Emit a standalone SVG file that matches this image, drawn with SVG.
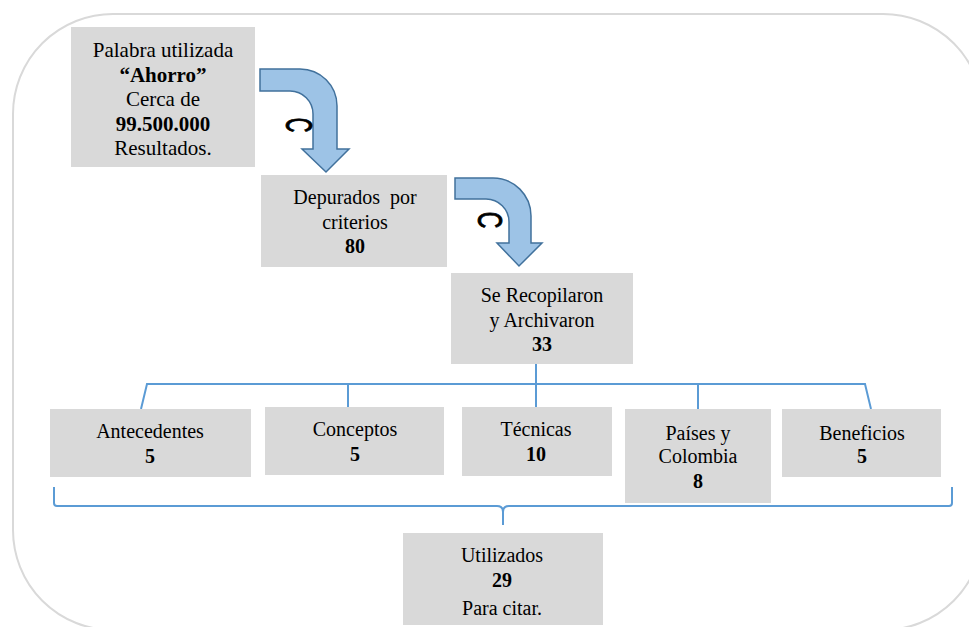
<svg xmlns="http://www.w3.org/2000/svg" width="969" height="627" viewBox="0 0 969 627">
<style>
.frame{fill:#ffffff;stroke:#d9d9d9;stroke-width:2}
.box{fill:#d9d9d9;stroke:none}
.arrow{fill:#9dc3e6;stroke:#41719c;stroke-width:1.5}
.conn{fill:none;stroke:#5b9bd5;stroke-width:2}
.t{font-family:'Liberation Serif','Tinos','Noto Serif','DejaVu Serif','Times New Roman',Times,serif;font-size:20px;fill:#000;text-anchor:middle}
.t1{font-size:21px}
.b{font-weight:bold}
.c{font-family:'Liberation Sans','DejaVu Sans',Arial,sans-serif;font-size:46px;fill:#000;stroke:#000;stroke-width:1.2;text-anchor:middle}
</style>
<rect class="frame" x="13" y="14" width="970" height="616" rx="100" ry="100"/>

<g id="connectors">
<path class="arrow" d="M260,69 H300 A37,37 0 0 1 337,106 V149 H349 L326,172 L302,149 H313 V114 A23,23 0 0 0 290,91 H260 Z"/>
<text class="c" transform="translate(286,125) rotate(90) scale(0.44,0.8)">C</text>
<path class="arrow" d="M455,178 H493 A38,38 0 0 1 531,216 V243 H542 L519,266 L497,243 H509 V222 A23,23 0 0 0 486,199 H455 Z"/>
<text class="c" transform="translate(478,220) rotate(90) scale(0.5,0.75)">C</text>
<path class="conn" d="M536,364 V407"/>
<path class="conn" d="M141,409 L147,384 H865 L871,409"/>
<path class="conn" d="M348,384 V407"/>
<path class="conn" d="M698,384 V409"/>
<path class="conn" d="M54,487 V503 Q54,506 57,506 H497 Q503,506 503,512 V525 M503,512 Q503,506 509,506 H949 Q952,506 952,503 V487"/>
</g>

<g id="n-palabra">
<rect class="box" x="71" y="27" width="184" height="140"/>
<text class="t t1" x="163" y="57">Palabra utilizada</text>
<text class="t t1 b" x="163" y="82">“Ahorro”</text>
<text class="t t1" x="163" y="106">Cerca de</text>
<text class="t t1 b" x="163" y="131">99.500.000</text>
<text class="t t1" x="163" y="155">Resultados.</text>
</g>

<g id="n-depurados">
<rect class="box" x="261" y="175" width="186" height="92"/>
<text class="t" x="355" y="204" xml:space="preserve">Depurados  por</text>
<text class="t" x="355" y="229">criterios</text>
<text class="t b" x="355" y="253">80</text>
</g>

<g id="n-recopilaron">
<rect class="box" x="451" y="273" width="182" height="91"/>
<text class="t" x="542" y="302">Se Recopilaron</text>
<text class="t" x="542" y="327">y Archivaron</text>
<text class="t b" x="542" y="351">33</text>
</g>

<g id="n-antecedentes">
<rect class="box" x="50" y="409" width="201" height="68"/>
<text class="t" x="150" y="438">Antecedentes</text>
<text class="t b" x="150" y="463">5</text>
</g>

<g id="n-conceptos">
<rect class="box" x="265" y="407" width="179" height="68"/>
<text class="t" x="355" y="436">Conceptos</text>
<text class="t b" x="355" y="461">5</text>
</g>

<g id="n-tecnicas">
<rect class="box" x="462" y="407" width="150" height="69"/>
<text class="t" x="536" y="436">Técnicas</text>
<text class="t b" x="536" y="461">10</text>
</g>

<g id="n-paises">
<rect class="box" x="625" y="409" width="146" height="94"/>
<text class="t" x="698" y="440">Países y</text>
<text class="t" x="698" y="463">Colombia</text>
<text class="t b" x="698" y="488">8</text>
</g>

<g id="n-beneficios">
<rect class="box" x="782" y="409" width="159" height="68"/>
<text class="t" x="862" y="440">Beneficios</text>
<text class="t b" x="862" y="463">5</text>
</g>

<g id="n-utilizados">
<rect class="box" x="403" y="533" width="200" height="92"/>
<text class="t" x="502" y="562">Utilizados</text>
<text class="t b" x="502" y="587">29</text>
<text class="t" x="502" y="615">Para citar.</text>
</g>
</svg>
